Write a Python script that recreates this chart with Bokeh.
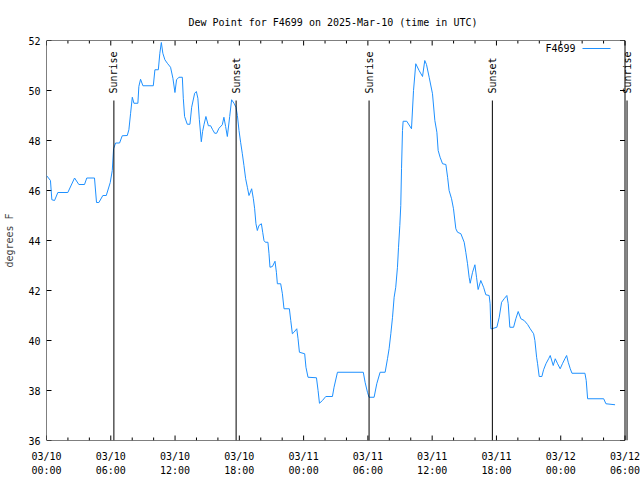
import math
from bokeh.plotting import figure
from bokeh.models import Range1d, FixedTicker, Arrow, ColumnDataSource, LabelSet, Label
from bokeh.embed import file_html
from bokeh.resources import INLINE
from bokeh.core.properties import value

# hours since 2025-03-10 00:00 UTC
hours = [0.00, 0.37, 0.50, 0.75, 1.06, 1.99, 2.62, 3.02, 3.55, 3.76, 4.48, 4.67, 4.89, 5.26, 5.58,
         5.95, 6.14, 6.26, 6.45, 6.82, 7.07, 7.54, 7.69, 7.85, 8.01, 8.16, 8.53, 8.62, 8.78, 9.00,
         9.97, 10.12, 10.44, 10.58, 10.72, 10.86, 11.05, 11.28, 11.58, 11.80, 11.99, 12.14, 12.36,
         12.68, 12.77, 12.89, 13.14, 13.39, 13.55, 13.83, 13.99, 14.13, 14.27, 14.45, 14.57, 14.70,
         14.88, 15.11, 15.32, 15.51, 15.70, 15.88, 16.10, 16.41, 16.56, 16.72, 16.88, 17.10, 17.28,
         17.50, 17.69, 17.82, 17.97, 18.12, 18.28, 18.43, 18.59, 18.75, 18.90, 19.03, 19.15, 19.31,
         19.43, 19.55, 19.68, 19.83, 20.06, 20.18, 20.30, 20.43, 20.67, 20.77, 20.86, 21.09, 21.33,
         21.46, 21.55, 21.86, 22.02, 22.17, 22.67, 22.80, 22.95, 23.10, 23.36, 23.48, 23.61, 24.10,
         24.22, 24.41, 25.20, 25.35, 25.48, 25.76, 26.07, 26.69, 26.84, 27.16, 29.57, 29.74, 29.96,
         30.11, 30.58, 30.83, 31.14, 31.61, 31.83, 31.98, 32.14, 32.30, 32.45, 32.60, 32.76, 32.86,
         32.98, 33.07, 33.14, 33.23, 33.29, 33.63, 34.07, 34.26, 34.47, 34.78, 35.10, 35.31, 35.47,
         35.72, 36.03, 36.25, 36.44, 36.56, 36.74, 36.97, 37.28, 37.44, 37.58, 37.81, 37.99, 38.21,
         38.37, 38.68, 38.99, 39.14, 39.30, 39.45, 39.55, 39.77, 39.99, 40.14, 40.29, 40.54, 40.80,
         41.01, 41.32, 41.41, 41.48, 41.57, 42.04, 42.26, 42.48, 42.72, 42.97, 43.10, 43.25, 43.60,
         43.81, 44.03, 44.28, 44.59, 44.91, 45.15, 45.47, 45.59, 45.75, 45.84, 45.99, 46.24, 46.40,
         46.62, 46.87, 47.02, 47.30, 47.49, 47.71, 47.95, 48.18, 48.39, 48.55, 48.70, 48.89, 49.05,
         50.26, 50.38, 50.51, 52.01, 52.22, 53.07]
dewpoint = [46.6, 46.4, 45.63, 45.6, 45.92, 45.92, 46.5, 46.24, 46.24, 46.5, 46.5, 45.52, 45.52, 45.8, 45.8,
            46.32, 46.8, 47.67, 47.9, 47.9, 48.19, 48.2, 48.43, 49.09, 49.73, 49.49, 49.49, 50.16, 50.45, 50.19,
            50.19, 50.83, 50.83, 51.49, 51.92, 51.49, 51.23, 51.09, 50.93, 50.49, 49.92, 50.43, 50.53,
            50.53, 49.69, 48.96, 48.65, 48.65, 49.33, 49.89, 49.96, 49.69, 48.83, 47.95, 48.36, 48.63,
            48.96, 48.59, 48.59, 48.43, 48.29, 48.29, 48.49, 48.63, 48.93, 48.56, 48.16, 48.96, 49.63,
            49.49, 49.33, 49.0, 48.4, 47.93, 47.47, 47.0, 46.47, 46.13, 45.8, 45.93, 46.07, 45.67,
            45.27, 44.67, 44.4, 44.6, 44.67, 44.33, 44.0, 43.93, 43.93, 43.47, 42.93, 42.96, 43.17,
            42.73, 42.27, 42.27, 41.87, 41.27, 41.27, 40.8, 40.27, 40.33, 40.47, 40.07, 39.53, 39.47,
            38.93, 38.53, 38.51, 38.0, 37.49, 37.6, 37.76, 37.76, 38.13, 38.73, 38.73, 38.33, 37.93,
            37.73, 37.73, 38.27, 38.73, 38.73, 39.27, 39.67, 40.27, 40.93, 41.73, 42.13, 42.93, 43.73,
            44.6, 45.4, 46.87, 48.4, 48.77, 48.77, 48.47, 50.0, 51.07, 50.8, 50.56, 51.2, 51.04,
            50.53, 49.87, 48.8, 48.33, 47.6, 47.33, 47.07, 47.04, 46.53, 46.0, 45.67, 45.27, 44.47,
            44.33, 44.27, 43.93, 43.53, 43.07, 42.53, 42.29, 42.73, 43.03, 42.53, 42.04, 42.4, 42.13,
            41.83, 41.8, 41.47, 40.47, 40.47, 40.53, 40.93, 41.53, 41.67, 41.8, 41.47, 40.53, 40.53,
            40.87, 41.16, 40.87, 40.8, 40.64, 40.47, 40.27, 40.0, 39.33, 39.07, 38.56, 38.56, 38.83,
            39.07, 39.27, 39.4, 39.0, 39.27, 39.07, 38.87, 39.09, 39.27, 39.4, 39.13, 38.87, 38.69,
            38.69, 38.4, 37.67, 37.67, 37.47, 37.43]

event_hours = [6.29, 17.70, 30.11, 41.62, 54.19]
event_names = ["Sunrise", "Sunset", "Sunrise", "Sunset", "Sunrise"]

x_ticks = [0, 6, 12, 18, 24, 30, 36, 42, 48, 54]
x_tick_labels = ["03/10\n00:00", "03/10\n06:00", "03/10\n12:00", "03/10\n18:00", "03/11\n00:00",
                 "03/11\n06:00", "03/11\n12:00", "03/11\n18:00", "03/12\n00:00", "03/12\n06:00"]
x_minor = [h for h in range(0, 55, 2) if h % 6 != 0]
y_ticks = [36, 38, 40, 42, 44, 46, 48, 50, 52]

title_text = "Dew Point for F4699 on 2025-Mar-10 (time in UTC)"
series_name = "F4699"
LINE_COLOR = "#1e90ff"
FONT = "DejaVu Sans Mono"
FS = "10px"

X0, X1 = 0, 54          # axis (box) extent
Y0, Y1 = 36, 52
X_VIEW_END = 54.7       # view extends a bit so the last sunrise marker shows past the box
BORDER_L, BORDER_R, BORDER_T, BORDER_B = 46, 8, 40, 40
W, H = 640, 480
frame_w = W - BORDER_L - BORDER_R
frame_h = H - BORDER_T - BORDER_B
px_x = frame_w / (X_VIEW_END - X0)
px_y = frame_h / (Y1 - Y0)

p = figure(width=W, height=H, x_range=Range1d(X0, X_VIEW_END), y_range=Range1d(Y0, Y1),
           output_backend="svg", toolbar_location=None,
           min_border_left=BORDER_L, min_border_right=BORDER_R,
           min_border_top=BORDER_T, min_border_bottom=BORDER_B)
p.grid.visible = False
p.outline_line_color = None
p.background_fill_color = "white"
p.border_fill_color = "white"

p.title.text = title_text
p.title.align = "left"
p.title.text_font = FONT
p.title.text_font_size = FS
p.title.text_font_style = "normal"
p.title.text_color = "black"
p.title.standoff = 26
p.title.offset = 142

xb = p.xaxis[0]
xb.ticker = FixedTicker(ticks=x_ticks, minor_ticks=[])
xb.major_label_overrides = {t: l for t, l in zip(x_ticks, x_tick_labels)}
xb.axis_line_color = None
xb.major_tick_line_color = None
xb.minor_tick_line_color = None
xb.major_tick_out = 0
xb.major_tick_in = 0
xb.major_label_text_font = FONT
xb.major_label_text_font_size = FS
xb.major_label_text_color = "black"
xb.major_label_standoff = 10
xb.major_label_text_line_height = 1.35

yl = p.yaxis[0]
yl.ticker = FixedTicker(ticks=y_ticks, minor_ticks=[])
yl.axis_line_color = None
yl.major_tick_line_color = None
yl.minor_tick_line_color = None
yl.major_tick_out = 0
yl.major_tick_in = 0
yl.major_label_text_font = FONT
yl.major_label_text_font_size = FS
yl.major_label_text_color = "black"
yl.major_label_standoff = 6
yl.axis_label = "degrees F"
yl.axis_label_text_font = FONT
yl.axis_label_text_font_size = FS
yl.axis_label_text_font_style = "normal"
yl.axis_label_standoff = 10

# inward ticks on all four sides (lengths in pixels converted through the scales)
MAJ, MIN = 5, 3
tx0, tx1, ty0, ty1 = [], [], [], []
for t in x_ticks:
    for yb, sgn in ((Y0, 1), (Y1, -1)):
        tx0.append(t); tx1.append(t); ty0.append(yb); ty1.append(yb + sgn * MAJ / px_y)
for t in x_minor:
    for yb, sgn in ((Y0, 1), (Y1, -1)):
        tx0.append(t); tx1.append(t); ty0.append(yb); ty1.append(yb + sgn * MIN / px_y)
for t in y_ticks:
    for xb_, sgn in ((X0, 1), (X1, -1)):
        tx0.append(xb_); tx1.append(xb_ + sgn * MAJ / px_x); ty0.append(t); ty1.append(t)
p.segment(x0=tx0, y0=ty0, x1=tx1, y1=ty1, line_color="black", line_width=1)

# box
p.line([X0, X1, X1, X0, X0], [Y0, Y0, Y1, Y1, Y0], line_color="black", line_width=1)

p.line(hours, dewpoint, line_color=LINE_COLOR, line_width=1)

ev = ColumnDataSource(dict(x=event_hours, name=event_names,
                           y0=[Y0] * len(event_hours), y1=[49.6] * len(event_hours),
                           ylab=[49.88] * len(event_hours)))
p.segment(x0="x", y0="y0", x1="x", y1="y1", source=ev, line_color="black", line_width=1)
p.add_layout(LabelSet(x="x", y="ylab", text="name", source=ev, angle=math.pi / 2,
                      text_align="left", text_baseline="middle",
                      text_font=value(FONT), text_font_size=FS, text_color="black"))

# key (text then sample, gnuplot style)
key_y = Y1 - 8 / px_y
key_text_x = X0 + (575 - BORDER_L) / px_x
p.add_layout(Label(x=key_text_x, y=key_y, text=series_name, text_align="right", text_baseline="middle",
                   text_font=FONT, text_font_size=FS, text_color="black"))
p.add_layout(Arrow(end=None, x_start=key_text_x + 7 / px_x, y_start=key_y,
                   x_end=key_text_x + 35 / px_x, y_end=key_y,
                   line_color=LINE_COLOR, line_width=1))

open("out.html", "w").write(file_html(p, INLINE))
